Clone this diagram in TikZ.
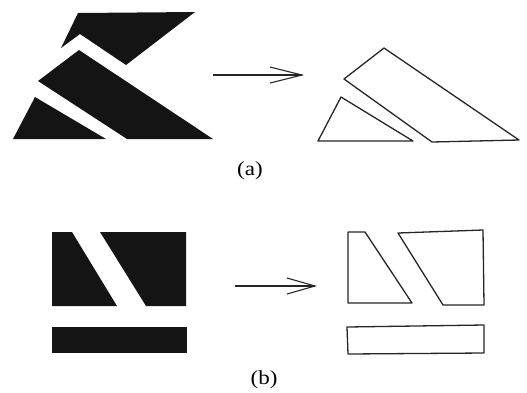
\documentclass[tikz,border=0pt]{standalone}
\usepackage{fontspec}
\setmainfont{Liberation Serif}
\begin{document}
\begin{tikzpicture}[x=1pt,y=-1pt,
  solid piece/.style={fill=black!92,draw=none},
  outline piece/.style={draw=black!85,line width=1.3pt,line join=round},
  map arrow/.style={draw=black!85,line width=1.1pt},
  caption/.style={font=\fontsize{20}{22}\selectfont,inner sep=0pt,xscale=1.15}]
\useasboundingbox (0,0) rectangle (527,392);
% (a) solid
\fill[solid piece] (78,13) -- (195,12) -- (126,65) -- (80,34) -- (61,48) -- cycle;
\fill[solid piece] (79,50) -- (213,139) -- (127,139) -- (38,81) -- cycle;
\fill[solid piece] (35,97) -- (106,139) -- (13,139) -- cycle;
% (a) outline
\draw[outline piece] (384,48) -- (519,140) -- (432,142) -- (344,79) -- cycle;
\draw[outline piece] (341,97) -- (413,141) -- (318,141) -- cycle;
% (a) arrow
\coordinate (a1) at (213,75);
\coordinate (a2) at (302,75);
\draw[map arrow] (a1) -- (a2);
\draw[map arrow] (270,67) -- (a2) -- (270,83);
\node[caption] (la) at (250,171) {(a)};
% (b) solid
\fill[solid piece] (52,232) -- (72,232) -- (117,306) -- (52,306) -- cycle;
\fill[solid piece] (100,232) -- (186,232) -- (186,306) -- (146,306) -- cycle;
\fill[solid piece] (52,327) rectangle (187,353);
% (b) outline
\draw[outline piece] (348,232) -- (365,232) -- (412,303) -- (348,303) -- cycle;
\draw[outline piece] (398,233) -- (483,230) -- (484,305) -- (443,305) -- cycle;
\draw[outline piece] (347,327) -- (484,325) -- (484,353) -- (348,354) -- cycle;
% (b) arrow
\coordinate (b1) at (235,286);
\coordinate (b2) at (315,286);
\draw[map arrow] (b1) -- (b2);
\draw[map arrow] (287,278) -- (b2) -- (287,294);
\node[caption] (lb) at (264,380) {(b)};
\end{tikzpicture}
\end{document}
